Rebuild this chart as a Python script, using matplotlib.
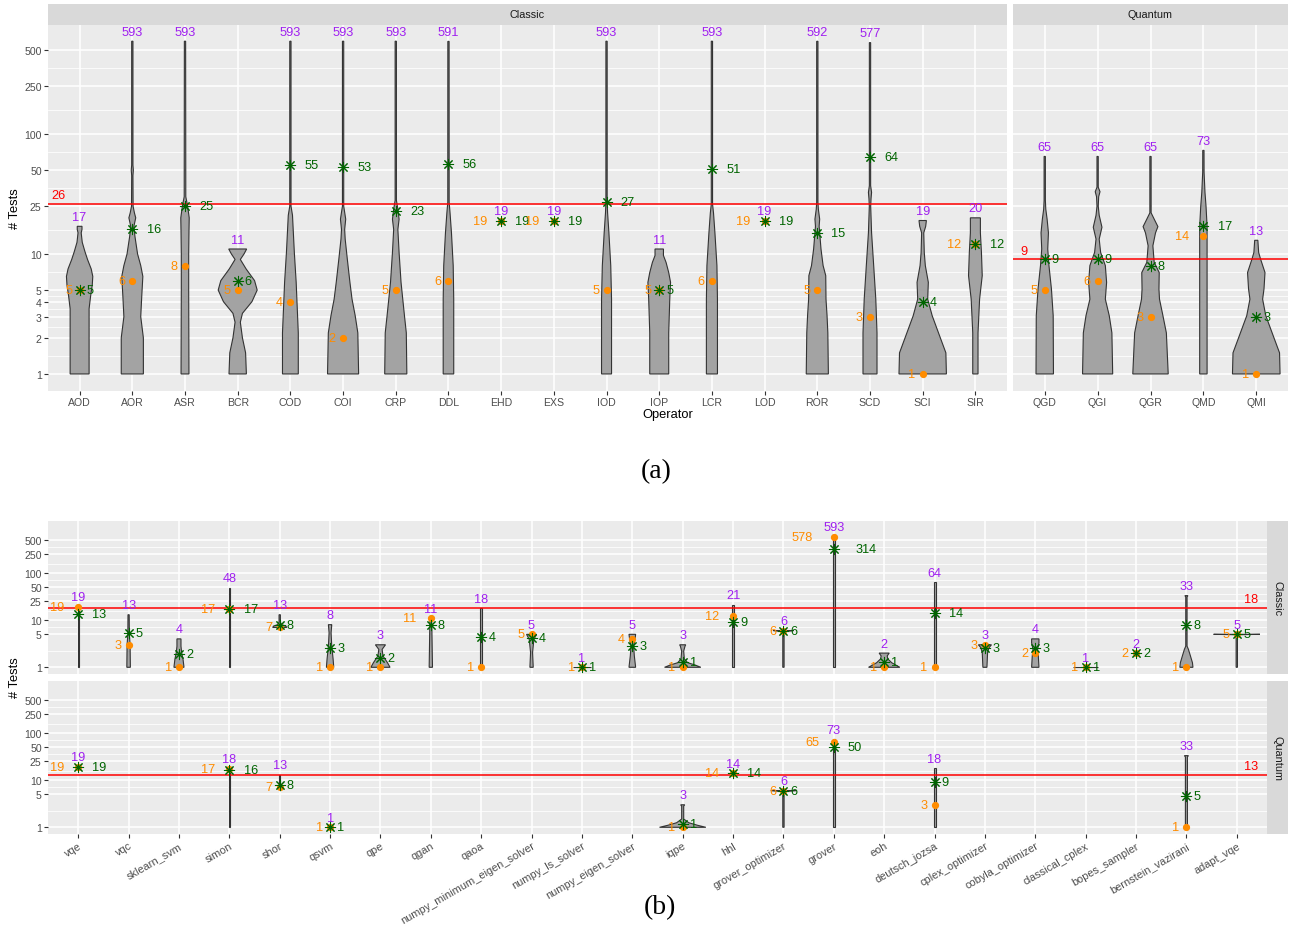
import numpy as np
import matplotlib.pyplot as plt
from matplotlib.ticker import NullLocator

plt.rcParams['font.family'] = ['Liberation Sans', 'DejaVu Sans']

PURPLE = '#A020F0'
ORANGE = '#FF8C00'
GREEN = '#006400'
FILL = '#A3A3A3'
EDGE = '#333333'
PANEL = '#EBEBEB'
STRIP = '#D9D9D9'

# ---------------- panel (a) : operators ----------------
classic_ops = ['AOD', 'AOR', 'ASR', 'BCR', 'COD', 'COI', 'CRP', 'DDL', 'EHD',
               'EXS', 'IOD', 'IOP', 'LCR', 'LOD', 'ROR', 'SCD', 'SCI', 'SIR']
classic_max = [17, 593, 593, 11, 593, 593, 593, 591, 19, 19, 593, 11, 593, 19, 592, 577, 19, 20]
classic_median = [5, 6, 8, 5, 4, 2, 5, 6, 19, 19, 5, 5, 6, 19, 5, 3, 1, 12]
classic_mean = [5, 16, 25, 6, 55, 53, 23, 56, 19, 19, 27, 5, 51, 19, 15, 64, 4, 12]
classic_ref = 26

quantum_ops = ['QGD', 'QGI', 'QGR', 'QMD', 'QMI']
quantum_max = [65, 65, 65, 73, 13]
quantum_median = [5, 6, 3, 14, 1]
quantum_mean = [9, 9, 8, 17, 3]
quantum_ref = 9

# violin outlines: (value, half width in category units)
shapes_a = {
    'AOD': [(1, .18), (3.5, .18), (4.5, .21), (5.5, .24), (6.5, .25), (7.5, .22), (9, .15),
            (10.5, .10), (12.5, .05), (15, .03), (16, .045), (17, .045)],
    'AOR': [(1, .21), (2, .21), (3, .16), (4.5, .18), (6.5, .20), (8, .16), (10, .10), (14, .05),
            (17, .03), (20, .065), (22, .04), (25, .015), (45, .012), (50, .02), (55, .012), (593, .012)],
    'ASR': [(1, .075), (5, .07), (10, .07), (15, .075), (20, .08), (25, .05), (30, .015), (593, .012)],
    'BCR': [(1, .165), (1.5, .15), (2, .09), (2.7, .05), (3.2, .09), (4, .27), (5, .37), (6, .32),
            (7.5, .16), (9, .05), (10, .12), (11, .17)],
    'COD': [(1, .15), (2.2, .15), (5.8, .11), (10.3, .075), (21, .04), (25, .012), (593, .012)],
    'COI': [(1, .295), (2.2, .28), (3.06, .23), (4.2, .17), (5.8, .13), (9.1, .08), (13.3, .04),
            (16, .03), (19.5, .05), (23, .025), (25, .012), (593, .012)],
    'CRP': [(1, .21), (2.2, .2), (3.06, .165), (5.8, .1), (10.3, .063), (16, .04), (19.5, .063),
            (23.6, .04), (28, .012), (593, .012)],
    'DDL': [(1, .10), (4.2, .10), (8, .09), (15, .057), (22, .03), (27, .013), (591, .012)],
    'IOD': [(1, .095), (4.2, .095), (8, .08), (15, .045), (22, .02), (27, .012), (593, .012)],
    'IOP': [(1, .18), (2.2, .18), (4.2, .2), (5.8, .215), (7, .18), (8.5, .13), (9.7, .08), (11, .08)],
    'LCR': [(1, .105), (4.2, .105), (8, .095), (15, .057), (22, .03), (26, .012), (593, .012)],
    'ROR': [(1, .21), (2.2, .2), (3.06, .185), (4.2, .165), (6.6, .16), (8, .11), (11, .07),
            (15, .045), (17, .035), (19.5, .045), (23.6, .02), (27, .012), (592, .012)],
    'SCD': [(1, .133), (2.2, .133), (4.2, .11), (8, .07), (15, .03), (25, .013), (29, .02),
            (32.6, .03), (37, .012), (577, .012)],
    'SCI': [(1, .45), (1.5, .44), (2.2, .3), (3.06, .18), (4.2, .095), (5.8, .107), (8, .05),
            (10.3, .03), (15, .02), (17, .057), (19, .07)],
    'SIR': [(1, .05), (2.2, .05), (4.2, .08), (6.6, .13), (10.3, .115), (15, .095), (20, .095)],
    'QGD': [(1, .165), (3.06, .16), (5.1, .127), (8, .08), (11, .057), (15, .07), (19.5, .045),
            (23.6, .02), (28, .012), (65, .012)],
    'QGI': [(1, .285), (2.2, .27), (3.06, .22), (4.2, .146), (5.8, .17), (8, .146), (10.3, .057),
            (13.3, .03), (16.7, .082), (21, .03), (25, .012), (30, .02), (33, .045), (36, .012), (65, .012)],
    'QGR': [(1, .335), (2.2, .3), (3.06, .235), (4.2, .17), (5.1, .16), (7, .165), (8.5, .07),
            (11.7, .045), (15, .095), (16.9, .14), (19.5, .07), (22, .012), (65, .012)],
    'QMD': [(1, .07), (17, .07), (25, .05), (32.6, .03), (48, .013), (73, .012)],
    'QMI': [(1, .45), (1.5, .44), (2.2, .3), (3.06, .18), (4.2, .12), (5.1, .146), (7, .165),
            (9.1, .08), (10.3, .045), (13, .03)],
}

# ---------------- panel (b) : programs ----------------
programs = ['vqe', 'vqc', 'sklearn_svm', 'simon', 'shor', 'qsvm', 'qpe', 'qgan', 'qaoa',
            'numpy_minimum_eigen_solver', 'numpy_ls_solver', 'numpy_eigen_solver', 'iqpe',
            'hhl', 'grover_optimizer', 'grover', 'eoh', 'deutsch_jozsa', 'cplex_optimizer',
            'cobyla_optimizer', 'classical_cplex', 'bopes_sampler', 'bernstein_vazirani', 'adapt_vqe']
prog_classic_max = [19, 13, 4, 48, 13, 8, 3, 11, 18, 5, 1, 5, 3, 21, 6, 593, 2, 64, 3, 4, 1, 2, 33, 5]
prog_classic_median = [19, 3, 1, 17, 7, 1, 1, 11, 1, 5, 1, 4, 1, 12, 6, 578, 1, 1, 3, 2, 1, 2, 1, 5]
prog_classic_mean = [13.4, 5.4, 1.95, 17, 7.8, 2.6, 1.6, 8, 4.4, 4.2, 1, 2.8, 1.3, 9.3, 6, 314,
                     1.3, 14.4, 2.6, 2.6, 1, 2, 7.8, 5]
prog_classic_ref = 18

prog_quantum = ['vqe', 'simon', 'shor', 'qsvm', 'iqpe', 'hhl', 'grover_optimizer', 'grover',
                'deutsch_jozsa', 'bernstein_vazirani']
prog_quantum_max = [19, 18, 13, 1, 3, 14, 6, 73, 18, 33]
prog_quantum_median = [19, 17, 7, 1, 1, 14, 6, 65, 3, 1]
prog_quantum_mean = [19, 16, 8, 1, 1.2, 14, 6, 50, 9, 4.7]
prog_quantum_ref = 13

shapes_b_classic = {
    'vqe': [(1, .013), (19, .013)],
    'vqc': [(1, .035), (3, .03), (5, .015), (13, .012)],
    'sklearn_svm': [(1, .1), (1.5, .08), (2.05, .053), (2.8, .04), (4, .04)],
    'simon': [(1, .012), (48, .012)],
    'shor': [(7, .14), (7.5, .12), (8, .04), (9, .013), (13, .013)],
    'qsvm': [(1, .073), (1.5, .06), (2.8, .033), (5.4, .02), (7.9, .033), (8, .033)],
    'qpe': [(1, .19), (1.25, .14), (1.74, .05), (2.4, .033), (3, .1)],
    'qgan': [(1, .033), (3, .026), (8, .02), (11, .013)],
    'qaoa': [(1, .02), (18, .02)],
    'numpy_minimum_eigen_solver': [(1, .033), (2.05, .02), (3.9, .046), (5, .1)],
    'numpy_ls_solver': [(1, .18), (1, .18)],
    'numpy_eigen_solver': [(1, .066), (1.74, .04), (2.8, .026), (3.9, .053), (5, .066)],
    'iqpe': [(1, .36), (1.12, .245), (1.25, .1), (1.5, .033), (2.2, .02), (2.8, .046), (3, .06)],
    'hhl': [(1, .02), (21, .02)],
    'grover_optimizer': [(1, .013), (5.6, .013), (5.85, .1), (6, .2)],
    'grover': [(1, .02), (593, .02)],
    'eoh': [(1, .31), (1.25, .15), (1.5, .073), (1.74, .06), (2, .1)],
    'deutsch_jozsa': [(1, .02), (64, .02)],
    'cplex_optimizer': [(1, .04), (2.05, .053), (2.6, .08), (3, .13)],
    'cobyla_optimizer': [(1, .073), (1.74, .06), (2.4, .046), (3.3, .073), (4, .073)],
    'classical_cplex': [(1, .25), (1, .25)],
    'bernstein_vazirani': [(1, .13), (1.25, .12), (1.74, .08), (2.4, .04), (2.8, .013), (31, .013), (33, .03)],
    'adapt_vqe': [(1, .013), (4.9, .013), (5, .46)],
}
shapes_b_quantum = {
    'simon': [(1, .012), (18, .012)],
    'shor': [(7, .013), (13, .013)],
    'iqpe': [(1, .46), (1.1, .3), (1.25, .12), (1.5, .02), (2.8, .02), (3, .04)],
    'grover_optimizer': [(1, .013), (5.6, .013), (5.85, .12), (6, .25)],
    'grover': [(1, .02), (73, .02)],
    'deutsch_jozsa': [(1, .02), (18, .02)],
    'bernstein_vazirani': [(1, .02), (31, .02), (33, .04)],
}

ticks_a = [1, 2, 3, 4, 5, 10, 25, 50, 100, 250, 500]
ticks_b = [1, 5, 10, 25, 50, 100, 250, 500]

W, H = 1292, 929
fig = plt.figure(figsize=(W / 100, H / 100), dpi=100)


def px_axes(x0, y0, x1, y1):
    return fig.add_axes([x0 / W, 1 - y1 / H, (x1 - x0) / W, (y1 - y0) / H])


def strip(x0, y0, x1, y1, text, rot=0):
    s = px_axes(x0, y0, x1, y1)
    s.set_facecolor(STRIP)
    s.set_xticks([])
    s.set_yticks([])
    for sp in s.spines.values():
        sp.set_visible(False)
    s.text(0.5, 0.5, text, ha='center', va='center', rotation=rot,
           fontsize=7.8, color='#1A1A1A', transform=s.transAxes)


def panel(ax, n, ylim, yticks, ylabels=True, xticks=True):
    ax.set_facecolor(PANEL)
    ax.set_yscale('log')
    ax.set_ylim(*ylim)
    ax.set_xlim(0.4, n + 0.6)
    ax.yaxis.set_minor_locator(NullLocator())
    minor = [np.sqrt(a * b) for a, b in zip(yticks[:-1], yticks[1:])]
    for m in minor:
        ax.axhline(m, color='white', lw=0.55, zorder=0)
    for t in yticks:
        ax.axhline(t, color='white', lw=1.1, zorder=0)
    for i in range(n):
        ax.axvline(i + 1, color='white', lw=1.1, zorder=0)
    ax.set_yticks(yticks)
    ax.set_yticklabels([str(t) for t in yticks])
    ax.set_xticks(range(1, n + 1))
    for sp in ax.spines.values():
        sp.set_visible(False)
    ax.tick_params(length=3, width=0.8, color='#333333', labelcolor='#4D4D4D',
                   labelsize=7.6, pad=1.5)
    if not ylabels:
        ax.tick_params(axis='y', left=False, labelleft=False)
    if not xticks:
        ax.tick_params(axis='x', bottom=False, labelbottom=False)


def violin(ax, x, prof):
    v = np.array([p[0] for p in prof], dtype=float)
    w = np.array([p[1] for p in prof])
    xs = np.concatenate([x - w, (x + w)[::-1]])
    ys = np.concatenate([v, v[::-1]])
    ax.fill(xs, ys, facecolor=FILL, edgecolor=EDGE, lw=0.8, zorder=2)


def stats(ax, xs, mx, md, mn, fs=9.2):
    cw = 0.556 * fs
    for x, a, b, c in zip(xs, mx, md, mn):
        ax.plot(x, b, 'o', color=ORANGE, ms=4.2, zorder=3)
        ax.plot(x, c, marker=(8, 2, 0), color=GREEN, ms=8, mew=0.75, ls='none', zorder=4)
        ax.annotate(str(a), (x, a), xytext=(0, 2.5), textcoords='offset points',
                    ha='center', va='bottom', color=PURPLE, fontsize=fs)
        lb = str(b)
        ax.annotate(lb, (x, b), xytext=(-1.5 * cw * len(lb), 0), textcoords='offset points',
                    ha='center', va='center', color=ORANGE, fontsize=fs)
        lc = f'{c:.0f}'
        ax.annotate(lc, (x, c), xytext=(1.5 * cw * len(lc), 0), textcoords='offset points',
                    ha='center', va='center', color=GREEN, fontsize=fs)


def ref_line(ax, val, xpos):
    ax.axhline(val, color='red', lw=1.1, zorder=2.5)
    ax.annotate(str(val), (xpos, val), xytext=(0, 2), textcoords='offset points',
                ha='center', va='bottom', color='red', fontsize=9.2)


# ---- (a) ----
ylim_a = (10 ** -0.142, 10 ** 2.908)
ax1 = px_axes(48, 26, 1007, 392)
panel(ax1, len(classic_ops), ylim_a, ticks_a)
ax1.set_xticklabels(classic_ops)
for i, op in enumerate(classic_ops):
    if op in shapes_a:
        violin(ax1, i + 1, shapes_a[op])
ref_line(ax1, classic_ref, 0.6)
stats(ax1, range(1, len(classic_ops) + 1), classic_max, classic_median, classic_mean)
strip(48, 5, 1007, 26, 'Classic')

ax2 = px_axes(1013, 26, 1288, 392)
panel(ax2, len(quantum_ops), ylim_a, ticks_a, ylabels=False)
ax2.set_xticklabels(quantum_ops)
for i, op in enumerate(quantum_ops):
    violin(ax2, i + 1, shapes_a[op])
ref_line(ax2, quantum_ref, 0.6)
stats(ax2, range(1, len(quantum_ops) + 1), quantum_max, quantum_median, quantum_mean)
strip(1013, 5, 1288, 26, 'Quantum')

fig.text(15 / W, 1 - 209 / H, '# Tests', rotation=90, ha='center', va='center', fontsize=9.3)
fig.text(668 / W, 1 - 415 / H, 'Operator', ha='center', va='center', fontsize=9.3)
fig.text(656 / W, 1 - 472 / H, '(a)', ha='center', va='center', fontsize=20,
         family='Liberation Serif')

# ---- (b) ----
ylim_b = (10 ** -0.142, 10 ** 3.10)
n = len(programs)
ax3 = px_axes(48, 522, 1267, 675)
panel(ax3, n, ylim_b, ticks_b, xticks=False)
for i, p in enumerate(programs):
    if p in shapes_b_classic:
        violin(ax3, i + 1, shapes_b_classic[p])
ref_line(ax3, prog_classic_ref, 24.28)
stats(ax3, range(1, n + 1), prog_classic_max, prog_classic_median, prog_classic_mean)
strip(1267, 522, 1288, 675, 'Classic', rot=-90)

ax4 = px_axes(48, 682, 1267, 835)
panel(ax4, n, ylim_b, ticks_b)
ax4.set_xticklabels(programs, rotation=30, ha='right', rotation_mode='anchor', fontsize=7.9)
for i, p in enumerate(programs):
    if p in shapes_b_quantum:
        violin(ax4, i + 1, shapes_b_quantum[p])
ref_line(ax4, prog_quantum_ref, 24.28)
qx = [programs.index(p) + 1 for p in prog_quantum]
stats(ax4, qx, prog_quantum_max, prog_quantum_median, prog_quantum_mean)
strip(1267, 682, 1288, 835, 'Quantum', rot=-90)

fig.text(15 / W, 1 - 678 / H, '# Tests', rotation=90, ha='center', va='center', fontsize=9.3)
fig.text(660 / W, 1 - 908 / H, '(b)', ha='center', va='center', fontsize=20,
         family='Liberation Serif')

fig.savefig('out.png', dpi=100)
